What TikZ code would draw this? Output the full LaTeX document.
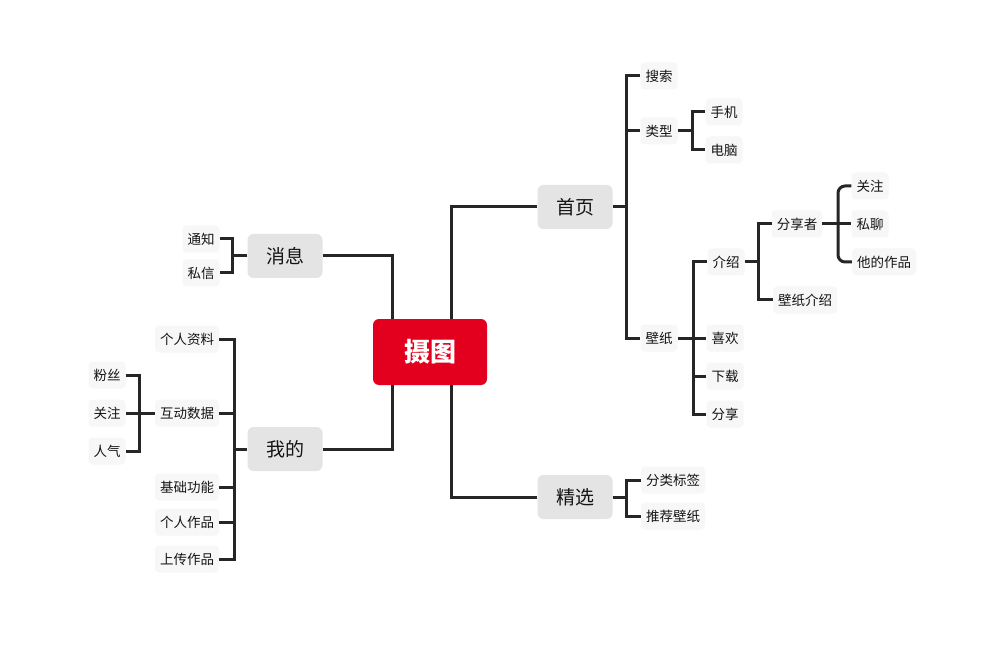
\documentclass[tikz,border=0pt]{standalone}
\usepackage{fontspec}
\setmainfont{Noto Sans CJK SC}
\definecolor{RootRed}   {RGB}{226,0,30}
\definecolor{TopicGray} {RGB}{228,228,228}
\definecolor{LeafGray}  {RGB}{247,247,247}
\definecolor{LinkDark}  {RGB}{38,38,38}
\definecolor{TextDark}  {RGB}{20,20,20}
\usetikzlibrary{calc}

\begin{document}
\begin{tikzpicture}[x=1pt,y=-1pt,
  root/.style={fill=RootRed,rounded corners=6pt,text=white,
               font=\bfseries\fontsize{26}{30}\selectfont,
               minimum width=114pt,minimum height=66pt},
  topic/.style={fill=TopicGray,rounded corners=6pt,text=TextDark,
                font=\fontsize{19}{22}\selectfont,
                minimum width=75pt,minimum height=44pt},
  leaf/.style={fill=LeafGray,rounded corners=4pt,text=TextDark,
               font=\fontsize{13.5}{16}\selectfont,
               inner xsep=5pt,minimum height=27pt},
  link/.style={draw=LinkDark,line width=3pt}]
  \fill[white] (0,0) rectangle (1001,660);
  \useasboundingbox (0,0) rectangle (1001,660);

  % centre and main topics
  \node[root]  (ct) at (430,352) {摄图};
  \node[topic] (xx) at (285,256) {消息};
  \node[topic] (wd) at (285,449) {我的};
  \node[topic] (sy) at (575,207) {首页};
  \node[topic] (jx) at (575,497) {精选};

  \draw[link] (xx.east) -| ($(ct.north)+(-38,0)$);
  \draw[link] (wd.east) -| ($(ct.south)+(-38,0)$);
  \draw[link] (sy.west) -| ($(ct.north)+(21,0)$);
  \draw[link] (jx.west) -| ($(ct.south)+(21,0)$);

  % 首页
  \node[leaf] (ss)  at (659,76)  {搜索};
  \node[leaf] (lx)  at (659,131) {类型};
  \node[leaf] (bz)  at (659,338) {壁纸};
  \node[leaf] (sj)  at (724,112) {手机};
  \node[leaf] (dn)  at (724,150) {电脑};
  \node[leaf] (js)  at (726,262) {介绍};
  \node[leaf] (xh)  at (725,338) {喜欢};
  \node[leaf] (xz)  at (725,376) {下载};
  \node[leaf] (fx)  at (725,414) {分享};
  \node[leaf] (fxz) at (797,224) {分享者};
  \node[leaf] (bjs) at (805,300) {壁纸介绍};
  \node[leaf] (gz1) at (870,186) {关注};
  \node[leaf] (sl)  at (870,224) {私聊};
  \node[leaf] (tzp) at (884,262) {他的作品};

  \coordinate (sy-j)  at (626,207);
  \coordinate (lx-j)  at (692,131);
  \coordinate (bz-j)  at (693,338);
  \coordinate (js-j)  at (758,262);
  \coordinate (fxz-j) at (838,224);

  \draw[link] (ss.west) -| (sy-j) |- (bz.west);
  \draw[link] (sy.east) -- (sy-j);
  \draw[link] (lx.west) -- (lx.west -| sy-j);
  \draw[link] (sj.west) -| (lx-j) |- (dn.west);
  \draw[link] (lx.east) -- (lx-j);
  \draw[link] (js.west) -| (bz-j) |- (fx.west);
  \draw[link] (bz.east) -- (xh.west);
  \draw[link] (xz.west) -- (xz.west -| bz-j);
  \draw[link] (fxz.west) -| (js-j) |- (bjs.west);
  \draw[link] (js.east) -- (js-j);
  \draw[link,rounded corners=7pt] (gz1.west) -| (fxz-j) |- (tzp.west);
  \draw[link] (fxz.east) -- (sl.west);

  % 精选
  \node[leaf] (fl) at (673,480) {分类标签};
  \node[leaf] (tj) at (673,516) {推荐壁纸};
  \coordinate (jx-j) at (626,497);
  \draw[link] (fl.west) -| (jx-j) |- (tj.west);
  \draw[link] (jx.east) -- (jx-j);

  % 消息
  \node[leaf] (tz) at (201,239) {通知};
  \node[leaf] (sx) at (201,273) {私信};
  \coordinate (xx-j) at (232,256);
  \draw[link] (tz.east) -| (xx-j) |- (sx.east);
  \draw[link] (xx.west) -- (xx-j);

  % 我的
  \node[leaf] (gr) at (187,339) {个人资料};
  \node[leaf] (hd) at (187,413) {互动数据};
  \node[leaf] (jc) at (187,487) {基础功能};
  \node[leaf] (zp) at (187,522) {个人作品};
  \node[leaf] (sc) at (187,559) {上传作品};
  \node[leaf] (fs) at (107,375) {粉丝};
  \node[leaf] (gz2) at (107,413) {关注};
  \node[leaf] (rq) at (107,451) {人气};

  \coordinate (wd-j) at (234,449);
  \coordinate (hd-j) at (139,413);
  \draw[link] (gr.east) -| (wd-j) |- (sc.east);
  \draw[link] (wd.west) -- (wd-j);
  \draw[link] (hd.east) -- (hd.east -| wd-j);
  \draw[link] (jc.east) -- (jc.east -| wd-j);
  \draw[link] (zp.east) -- (zp.east -| wd-j);
  \draw[link] (fs.east) -| (hd-j) |- (rq.east);
  \draw[link] (hd.west) -- (gz2.east);
\end{tikzpicture}
\end{document}
